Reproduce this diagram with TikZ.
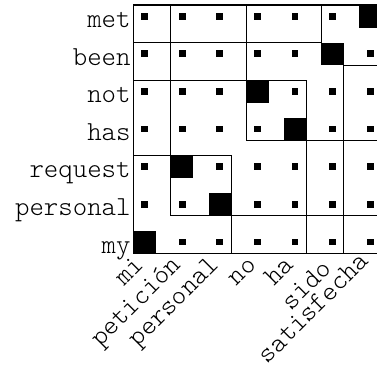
\documentclass[tikz,border=0pt]{standalone}
\usepackage{fontspec}
\setmonofont{lmmonolt10-regular.otf}
\begin{document}
\begin{tikzpicture}[x=1pt,y=-1pt,
  lbl/.style={font=\fontsize{27.5}{32}\selectfont\ttfamily, inner sep=0pt},
  gridline/.style={line width=1.1pt, line cap=rect},
  cellfill/.style={fill=black}]
\useasboundingbox (0,0) rectangle (377,367);
\clip (0,0) rectangle (377,367);
\begin{scope}[shift={(133.3,5)}, x=37.6pt, y=-37.6pt]
  % dots everywhere
  \foreach \i in {0,...,6}
    \foreach \j in {0,...,6}
      \fill[cellfill] (\i+0.21,\j+0.21) rectangle ++(0.18,0.18);
  % black alignment cells
  \foreach \i/\j in {6/0,5/1,3/2,4/3,1/4,2/5,0/6}
    \fill[cellfill] (\i,\j) rectangle ++(0.6,0.6);
  % border
  \draw[gridline] (0,0) rectangle (6.6,6.6);
  % bracketing lines
  \draw[gridline] (5,0) -- (5,1);
  \draw[gridline] (0,1) -- (5,1);
  \draw[gridline] (6.6,1.6) -- (5.6,1.6) -- (5.6,6.6);
  \draw[gridline] (0,2) -- (4.6,2) -- (4.6,6.6);
  \draw[gridline] (3,0) -- (3,3.6) -- (6.6,3.6);
  \draw[gridline] (0,4) -- (2.6,4) -- (2.6,6.6);
  \draw[gridline] (1,0) -- (1,5.6) -- (6.6,5.6);
  % row labels
  \foreach \w [count=\j from 0] in {met,been,not,has,request,personal,my}
    \node[lbl, anchor=base east] (row\j) at ([xshift=-2.5pt]0,\j+0.6) {\w};
  % column labels
  \foreach \w/\d [count=\i from 0] in {mi/13,petición/13,personal/13,no/13,ha/13,sido/17,satisfecha/9}
    \node[lbl, rotate=45, anchor=base east] (col\i) at ([yshift=-\d pt]\i+0.3,6.6) {\w};
\end{scope}
\end{tikzpicture}
\end{document}
